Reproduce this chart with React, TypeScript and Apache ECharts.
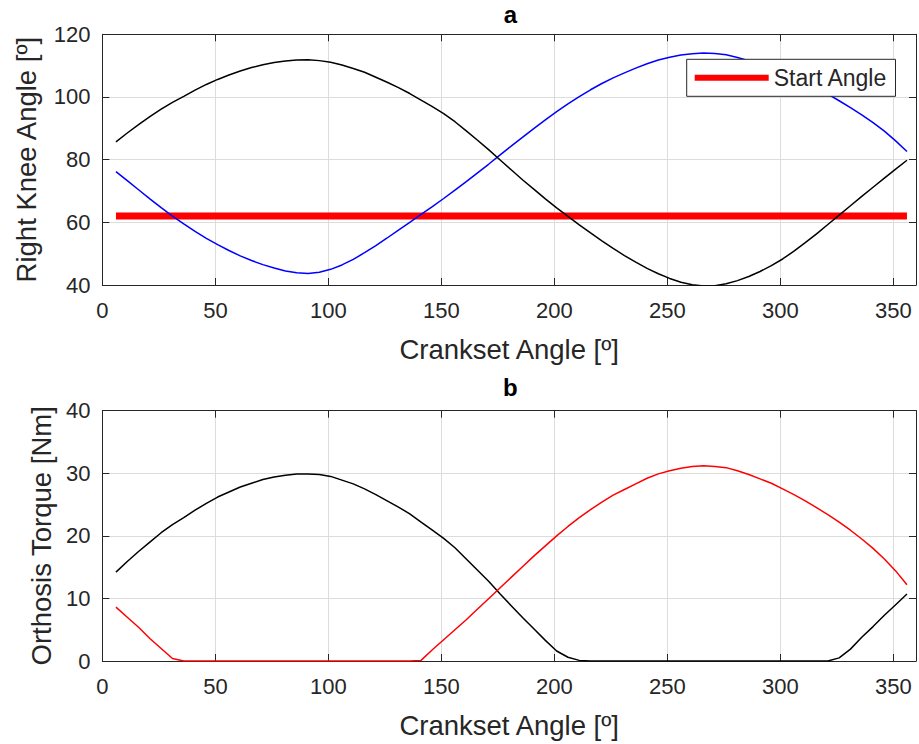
import React, { useEffect, useRef } from "react";
import * as echarts from "echarts";

// Crankset angle samples [º]
const ANGLE = [
  6, 11, 16, 21, 26, 31, 36, 41, 46, 51,
  56, 61, 66, 71, 76, 81, 86, 91, 96, 101,
  106, 111, 116, 121, 126, 131, 136, 141, 146, 151,
  156, 161, 166, 171, 176, 181, 186, 191, 196, 201,
  206, 211, 216, 221, 226, 231, 236, 241, 246, 251,
  256, 261, 266, 271, 276, 281, 286, 291, 296, 301,
  306, 311, 316, 321, 326, 331, 336, 341, 346, 351,
  356,
];

// Right knee angle, black trace [º]
const KNEE_BLACK = [
  85.7, 88.5, 91.2, 93.7, 96.1, 98.3, 100.2, 102.2, 104.0, 105.6,
  107.0, 108.3, 109.4, 110.3, 111.0, 111.5, 111.8, 111.9, 111.6, 111.1,
  110.2, 109.1, 107.9, 106.3, 104.7, 103.0, 101.1, 99.0, 96.9, 94.7,
  92.1, 89.2, 86.2, 83.1, 79.9, 76.7, 73.5, 70.5, 67.5, 64.6,
  61.9, 59.2, 56.6, 54.1, 51.7, 49.4, 47.3, 45.3, 43.6, 42.1,
  40.9, 40.1, 39.7, 39.8, 40.4, 41.4, 42.7, 44.3, 46.2, 48.3,
  50.8, 53.5, 56.3, 59.3, 62.3, 65.3, 68.3, 71.2, 74.1, 77.0,
  79.8,
];

// Right knee angle, blue trace [º]
const KNEE_BLUE = [
  76.2, 73.3, 70.4, 67.5, 64.7, 62.0, 59.5, 57.1, 54.9, 52.9,
  51.0, 49.3, 47.8, 46.5, 45.4, 44.5, 43.9, 43.7, 44.1, 45.0,
  46.4, 48.2, 50.3, 52.6, 55.0, 57.5, 60.0, 62.5, 65.0, 67.6,
  70.3, 73.0, 75.8, 78.6, 81.5, 84.4, 87.2, 90.0, 92.7, 95.3,
  97.8, 100.1, 102.3, 104.3, 106.1, 107.7, 109.2, 110.6, 111.8, 112.7,
  113.4, 113.8, 114.0, 113.9, 113.5, 112.6, 111.6, 110.5, 109.3, 107.9,
  106.3, 104.6, 102.8, 100.9, 98.8, 96.6, 94.3, 91.8, 89.1, 86.0,
  82.6,
];

// Orthosis torque, black trace [Nm]
const TORQUE_BLACK = [
  14.2, 15.9, 17.5, 19.0, 20.5, 21.8, 22.9, 24.1, 25.2, 26.2,
  27.0, 27.8, 28.4, 29.0, 29.4, 29.7, 29.9, 29.9, 29.8, 29.5,
  28.9, 28.3, 27.5, 26.6, 25.6, 24.6, 23.5, 22.2, 20.9, 19.6,
  18.1, 16.3, 14.5, 12.7, 10.7, 8.8, 6.9, 5.1, 3.3, 1.6,
  0.6, 0.1, 0, 0, 0, 0, 0, 0, 0, 0,
  0, 0, 0, 0, 0, 0, 0, 0, 0, 0,
  0, 0, 0, 0, 0.5, 1.9, 3.8, 5.5, 7.3, 9.0,
  10.7,
];

// Orthosis torque, red trace [Nm]
const TORQUE_RED = [
  8.6, 7.0, 5.4, 3.6, 2.0, 0.4, 0, 0, 0, 0,
  0, 0, 0, 0, 0, 0, 0, 0, 0, 0,
  0, 0, 0, 0, 0, 0, 0, 0.1, 1.8, 3.4,
  5.0, 6.6, 8.3, 10.0, 11.7, 13.4, 15.1, 16.8, 18.4, 20.0,
  21.5, 22.9, 24.2, 25.4, 26.5, 27.4, 28.3, 29.2, 29.9, 30.4,
  30.8, 31.1, 31.2, 31.1, 30.9, 30.4, 29.8, 29.1, 28.4, 27.5,
  26.6, 25.6, 24.5, 23.4, 22.2, 20.9, 19.5, 18.0, 16.3, 14.4,
  12.2,
];

const START_ANGLE = 62;

const FONT = "'Liberation Sans', Arial, Helvetica, sans-serif";
const INK = "#262626";
const GRID_LINE = "#dcdcdc";
const TICK_FONT = 22;
const NAME_FONT = 27.5;

const pairs = (ys: number[]) => ANGLE.map((a, i) => [a, ys[i]]);

function xAxisFor(gridIndex: number, mirror: boolean) {
  return {
    type: "value",
    gridIndex,
    position: mirror ? "top" : "bottom",
    min: 0,
    max: 360,
    interval: 50,
    axisLine: { show: true, onZero: false, lineStyle: { color: INK, width: 1 } },
    axisTick: { show: true, inside: true, length: 7, lineStyle: { color: INK, width: 1 } },
    axisLabel: {
      show: !mirror,
      color: INK,
      fontSize: TICK_FONT,
      fontFamily: FONT,
      margin: 14,
      formatter: (v: number) => (v > 355 ? "" : String(v)),
    },
    splitLine: { show: !mirror, lineStyle: { color: GRID_LINE, width: 1 } },
    name: mirror ? "" : "Crankset Angle [º]",
    nameLocation: "middle",
    nameGap: 50,
    nameTextStyle: { color: INK, fontSize: NAME_FONT, fontFamily: FONT },
  };
}

function yAxisFor(
  gridIndex: number,
  mirror: boolean,
  min: number,
  max: number,
  interval: number,
  name: string,
  nameGap: number
) {
  return {
    type: "value",
    gridIndex,
    position: mirror ? "right" : "left",
    min,
    max,
    interval,
    axisLine: { show: true, onZero: false, lineStyle: { color: INK, width: 1 } },
    axisTick: { show: true, inside: true, length: 7, lineStyle: { color: INK, width: 1 } },
    axisLabel: { show: !mirror, color: INK, fontSize: TICK_FONT, fontFamily: FONT, margin: 12 },
    splitLine: { show: !mirror, lineStyle: { color: GRID_LINE, width: 1 } },
    name: mirror ? "" : name,
    nameLocation: "middle",
    nameGap,
    nameTextStyle: { color: INK, fontSize: NAME_FONT, fontFamily: FONT },
  };
}

function lineSeries(name: string, xAxisIndex: number, yAxisIndex: number, data: number[][], color: string, width: number, z = 2) {
  return {
    type: "line",
    name,
    xAxisIndex,
    yAxisIndex,
    data,
    showSymbol: false,
    symbol: "none",
    smooth: false,
    silent: true,
    z,
    itemStyle: { color },
    lineStyle: { color, width, cap: "butt" },
    emphasis: { disabled: true },
  };
}

export default function App() {
  const ref = useRef<HTMLDivElement>(null);

  useEffect(() => {
    document.body.style.margin = "0";
    const chart = echarts.init(ref.current!, null, { renderer: "svg" });

    const last = ANGLE.length - 1;
    const startLine = [
      [ANGLE[0], START_ANGLE],
      [ANGLE[last], START_ANGLE],
    ];

    chart.setOption({
      animation: false,
      backgroundColor: "#ffffff",
      textStyle: { fontFamily: FONT },
      grid: [
        { left: 102.4, top: 34.3, width: 816, height: 250.7, containLabel: false },
        { left: 102.4, top: 410.7, width: 816, height: 250.3, containLabel: false },
      ],
      xAxis: [xAxisFor(0, false), xAxisFor(0, true), xAxisFor(1, false), xAxisFor(1, true)],
      yAxis: [
        yAxisFor(0, false, 40, 120, 20, "Right Knee Angle [º]", 62),
        yAxisFor(0, true, 40, 120, 20, "", 0),
        yAxisFor(1, false, 0, 40, 10, "Orthosis Torque [Nm]", 47),
        yAxisFor(1, true, 0, 40, 10, "", 0),
      ],
      legend: {
        data: ["Start Angle"],
        left: 686.7,
        top: 59.3,
        orient: "horizontal",
        padding: [7, 8, 7, 8],
        itemWidth: 74,
        itemHeight: 6,
        icon: "rect",
        selectedMode: false,
        borderColor: INK,
        borderWidth: 1,
        borderRadius: 0,
        backgroundColor: "#ffffff",
        textStyle: { color: INK, fontSize: 23, fontFamily: FONT },
      },
      graphic: [
        {
          type: "text",
          x: 510.4,
          y: 14,
          style: {
            text: "a",
            fill: "#000000",
            font: `bold 24px ${FONT}`,
            textAlign: "center",
            textVerticalAlign: "middle",
          },
        },
        {
          type: "text",
          x: 510.4,
          y: 387,
          style: {
            text: "b",
            fill: "#000000",
            font: `bold 24px ${FONT}`,
            textAlign: "center",
            textVerticalAlign: "middle",
          },
        },
      ],
      series: [
        lineSeries("Start Angle", 0, 0, startLine, "#ff0000", 7, 1),
        lineSeries("Knee blue", 0, 0, pairs(KNEE_BLUE), "#0000ff", 1.5),
        lineSeries("Knee black", 0, 0, pairs(KNEE_BLACK), "#000000", 1.5),
        lineSeries("Torque black", 2, 2, pairs(TORQUE_BLACK), "#000000", 1.5),
        lineSeries("Torque red", 2, 2, pairs(TORQUE_RED), "#ff0000", 1.5),
      ],
    });

    return () => chart.dispose();
  }, []);

  return <div ref={ref} style={{ width: 919, height: 744 }} />;
}
